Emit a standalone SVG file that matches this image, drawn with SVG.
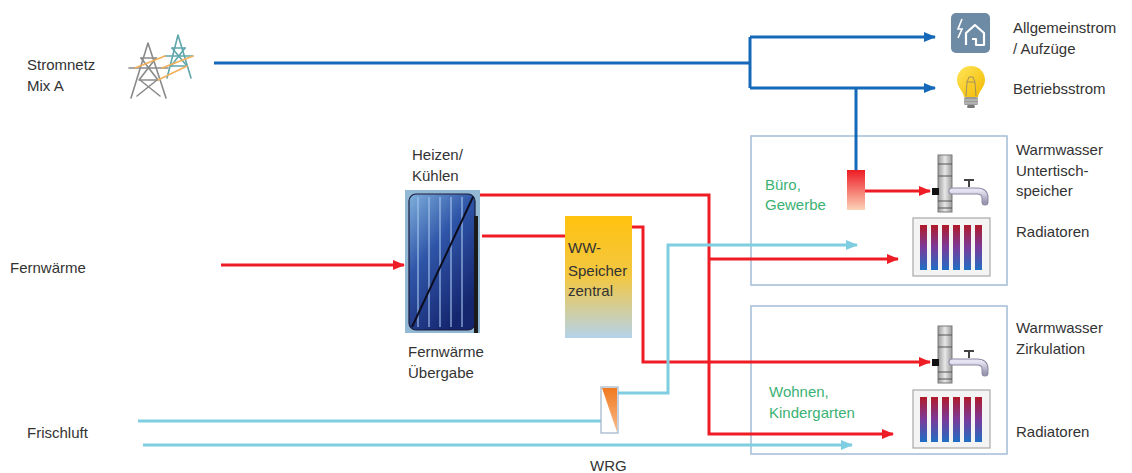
<svg xmlns="http://www.w3.org/2000/svg" width="1132" height="473" viewBox="0 0 1132 473">
  <style>
    .lbl { font-family: "Liberation Sans", Arial, sans-serif; font-size: 15px; fill: #333333; }
    .zone { font-family: "Liberation Sans", Arial, sans-serif; font-size: 15px; fill: #3bb273; }
    .area { fill: none; stroke: #a3bcd6; stroke-width: 1.5; }
    .el { fill: none; stroke: #1668b8; stroke-width: 3; }
    .hot { fill: none; stroke: #ee1c25; stroke-width: 3; }
    .air { fill: none; stroke: #7fcde0; stroke-width: 3; }
    .pyl { fill: none; stroke-width: 1.6; stroke-linecap: round; }
  </style>
  <defs>
    <marker id="ah-el" markerUnits="userSpaceOnUse" markerWidth="12" markerHeight="10" refX="11" refY="5" orient="auto">
      <path d="M0,0 L12,5 L0,10 z" fill="#1668b8"/>
    </marker>
    <marker id="ah-hot" markerUnits="userSpaceOnUse" markerWidth="12" markerHeight="10" refX="11" refY="5" orient="auto">
      <path d="M0,0 L12,5 L0,10 z" fill="#ee1c25"/>
    </marker>
    <marker id="ah-air" markerUnits="userSpaceOnUse" markerWidth="12" markerHeight="10" refX="11" refY="5" orient="auto">
      <path d="M0,0 L12,5 L0,10 z" fill="#7fcde0"/>
    </marker>
    <linearGradient id="g-hx" x1="0" y1="0" x2="0.6" y2="1">
      <stop offset="0" stop-color="#7fb0dc"/>
      <stop offset="0.45" stop-color="#2f55a8"/>
      <stop offset="1" stop-color="#15256e"/>
    </linearGradient>
    <linearGradient id="g-tank" x1="0" y1="0" x2="0" y2="1">
      <stop offset="0" stop-color="#ffc20e"/>
      <stop offset="0.5" stop-color="#f2c744"/>
      <stop offset="1" stop-color="#b5d3ea"/>
    </linearGradient>
    <linearGradient id="g-heater" x1="0" y1="0" x2="0" y2="1">
      <stop offset="0" stop-color="#ee1c25"/>
      <stop offset="1" stop-color="#fbd3b8"/>
    </linearGradient>
    <linearGradient id="g-rad" x1="0" y1="0" x2="0" y2="1">
      <stop offset="0" stop-color="#b01a2a"/>
      <stop offset="0.5" stop-color="#7a3a9a"/>
      <stop offset="1" stop-color="#1f6fc4"/>
    </linearGradient>
    <linearGradient id="g-wrg" x1="0" y1="0" x2="0" y2="1">
      <stop offset="0" stop-color="#f07a20"/>
      <stop offset="1" stop-color="#f9b98a"/>
    </linearGradient>
    <linearGradient id="g-spout" x1="0" y1="0" x2="0" y2="1">
      <stop offset="0" stop-color="#e6e4f2"/>
      <stop offset="1" stop-color="#9a98b0"/>
    </linearGradient>
    <linearGradient id="g-riser" x1="0" y1="0" x2="1" y2="0">
      <stop offset="0" stop-color="#9a9a9a"/>
      <stop offset="0.5" stop-color="#e8e8e8"/>
      <stop offset="1" stop-color="#9a9a9a"/>
    </linearGradient>
    <linearGradient id="g-bulb" x1="0" y1="0" x2="1" y2="1">
      <stop offset="0" stop-color="#ffe65a"/>
      <stop offset="1" stop-color="#f2b800"/>
    </linearGradient>

    <!-- water outlet: riser with tap -->
    <g id="tap">
      <rect x="0" y="0" width="14" height="57" fill="url(#g-riser)" stroke="#7a7a7a" stroke-width="1"/>
      <path d="M0,9 H14 M0,21 H14 M0,46 H14 M0,53 H14" stroke="#555" stroke-width="1"/>
      <path d="M14,36 H39 Q47,36 47,43 V47" fill="none" stroke="#8c8aa3" stroke-width="7" stroke-linecap="round"/>
      <path d="M14,36 H39 Q47,36 47,43 V47" fill="none" stroke="url(#g-spout)" stroke-width="5" stroke-linecap="round"/>
      <path d="M31,32 V25 M26,25 H36" stroke="#444" stroke-width="2"/>
      <rect x="-6" y="33" width="7" height="7" fill="#111"/>
    </g>

    <!-- panel radiator -->
    <g id="rad">
      <rect x="0" y="0" width="77" height="58" fill="#f4f4f4" stroke="#a8a8a8" stroke-width="1.2"/>
      <rect x="7" y="7" width="7" height="45" fill="url(#g-rad)"/>
      <rect x="18" y="7" width="7" height="45" fill="url(#g-rad)"/>
      <rect x="29" y="7" width="7" height="45" fill="url(#g-rad)"/>
      <rect x="40" y="7" width="7" height="45" fill="url(#g-rad)"/>
      <rect x="51" y="7" width="7" height="45" fill="url(#g-rad)"/>
      <rect x="62" y="7" width="7" height="45" fill="url(#g-rad)"/>
    </g>
  </defs>

  <rect width="1132" height="473" fill="#ffffff"/>

  <!-- building zones -->
  <g id="zone-office">
    <rect class="area" x="751" y="136" width="256" height="149"/>
    <text class="zone" x="765" y="190">Büro,</text>
    <text class="zone" x="765" y="210">Gewerbe</text>
  </g>
  <g id="zone-living">
    <rect class="area" x="751" y="306" width="256" height="148"/>
    <text class="zone" x="769" y="397">Wohnen,</text>
    <text class="zone" x="769" y="418">Kindergarten</text>
  </g>

  <!-- connectors -->
  <g id="connectors">
    <path class="el" d="M214,63 H750"/>
    <path class="el" d="M750,37 V88"/>
    <path class="el" d="M750,37 H935" marker-end="url(#ah-el)"/>
    <path class="el" d="M750,88 H935" marker-end="url(#ah-el)"/>
    <path class="el" d="M856,88 V171"/>

    <path class="hot" d="M221,265 H404" marker-end="url(#ah-hot)"/>
    <path class="hot" d="M480,195 H709 V434 H893" marker-end="url(#ah-hot)"/>
    <path class="hot" d="M709,259 H898" marker-end="url(#ah-hot)"/>
    <path class="hot" d="M482,236 H565"/>
    <path class="hot" d="M632,227 H643 V362 H930" marker-end="url(#ah-hot)"/>
    <path class="hot" d="M865,191 H930" marker-end="url(#ah-hot)"/>

    <path class="air" d="M138,421 H601"/>
    <path class="air" d="M618,393 H668 V245 H857" marker-end="url(#ah-air)"/>
    <path class="air" d="M143,445 H852" marker-end="url(#ah-air)"/>
  </g>

  <!-- grid supply -->
  <g id="grid">
    <g class="pyl" stroke="#8a8a8a">
      <path d="M148,43 L131,98 M148,43 L166,98"/>
      <path d="M141,58 H156 M135,68 H162 M140,80 H157"/>
      <path d="M141,58 L158,80 M156,58 L139,80 M140,80 L160,96 M157,80 L137,96"/>
      <path d="M129,68 L135,68 M162,68 L168,68"/>
    </g>
    <g class="pyl" stroke="#5fa7ab">
      <path d="M178,35 L167,78 M178,35 L191,78"/>
      <path d="M172,48 H185 M165,56 H193 M171,66 H187"/>
      <path d="M172,48 L187,66 M185,48 L171,66"/>
    </g>
    <g class="pyl" stroke="#f2b05a" stroke-width="1.2">
      <path d="M135,68 L165,56 M162,68 L193,56 M158,80 L187,66"/>
    </g>
    <text class="lbl" x="27" y="70">Stromnetz</text>
    <text class="lbl" x="27" y="91">Mix A</text>
  </g>

  <g id="district-heat">
    <text class="lbl" x="10" y="273">Fernwärme</text>
  </g>

  <g id="fresh-air">
    <text class="lbl" x="27" y="438">Frischluft</text>
  </g>

  <!-- general power / lifts -->
  <g id="general-power">
    <rect x="951" y="13" width="39" height="40" rx="5" fill="#6e8ba6"/>
    <path d="M962,19 L958,29 L962,29 L958,38" fill="none" stroke="#ffffff" stroke-width="1.6"/>
    <path d="M966,45 V33 L975,25 L984,33 V45 H976 V39 H972" fill="none" stroke="#ffffff" stroke-width="2.2" stroke-linejoin="round"/>
    <text class="lbl" x="1013" y="33">Allgemeinstrom</text>
    <text class="lbl" x="1013" y="54">/ Aufzüge</text>
  </g>

  <!-- operating power -->
  <g id="operating-power">
    <path d="M971,66 C962,66 957,73 957,80 C957,87 963,91 964,97 H978 C979,91 985,87 985,80 C985,73 980,66 971,66 z" fill="url(#g-bulb)"/>
    <path d="M966,96 L967,82 L975,82 L976,96 M967,82 L969,77 H973 L975,82" fill="none" stroke="#9a8a60" stroke-width="0.9"/>
    <rect x="964" y="97" width="14" height="8" rx="1.5" fill="#9a9a9a"/>
    <path d="M964,100 H978 M964,103 H978" stroke="#c8c8c8" stroke-width="1"/>
    <rect x="967" y="105" width="8" height="3" rx="1.5" fill="#777"/>
    <text class="lbl" x="1013" y="94">Betriebsstrom</text>
  </g>

  <!-- district heating substation -->
  <g id="substation">
    <text class="lbl" x="412" y="160">Heizen/</text>
    <text class="lbl" x="412" y="181">Kühlen</text>
    <rect x="405" y="190" width="75" height="143" fill="#93b8d3"/>
    <rect x="409" y="194" width="66" height="136" rx="7" fill="url(#g-hx)" stroke="#1a1a3a" stroke-width="1.2"/>
    <path d="M418,197 V327 M429,197 V327 M440,197 V327 M451,197 V327 M462,197 V327" stroke="#a9c8ef" stroke-width="2" opacity="0.55"/>
    <path d="M412,327 L473,197" stroke="#0d0d20" stroke-width="2"/>
    <rect x="474" y="216" width="4" height="117" fill="#1a1a1a"/>
    <text class="lbl" x="408" y="357">Fernwärme</text>
    <text class="lbl" x="408" y="378">Übergabe</text>
  </g>

  <!-- central hot water storage -->
  <g id="dhw-tank">
    <rect x="565" y="216" width="67" height="122" fill="url(#g-tank)"/>
    <text class="lbl" x="568" y="253">WW-</text>
    <text class="lbl" x="568" y="276">Speicher</text>
    <text class="lbl" x="568" y="296">zentral</text>
  </g>

  <!-- heat recovery -->
  <g id="wrg">
    <rect x="601" y="387" width="17" height="46" fill="#ffffff" stroke="#9fb3c8" stroke-width="1.2"/>
    <path d="M602,388 H617 V432 z" fill="url(#g-wrg)"/>
    <text class="lbl" x="590" y="471">WRG</text>
  </g>

  <!-- under-sink heater -->
  <g id="instant-heater">
    <rect x="847" y="170" width="18" height="40" fill="url(#g-heater)"/>
  </g>

  <g id="outlet-office">
    <use href="#tap" x="938" y="155"/>
    <text class="lbl" x="1016" y="155">Warmwasser</text>
    <text class="lbl" x="1016" y="176">Untertisch-</text>
    <text class="lbl" x="1016" y="196">speicher</text>
  </g>
  <g id="radiator-office">
    <use href="#rad" x="913" y="218"/>
    <text class="lbl" x="1016" y="237">Radiatoren</text>
  </g>

  <g id="outlet-living">
    <use href="#tap" x="938" y="326"/>
    <text class="lbl" x="1016" y="333">Warmwasser</text>
    <text class="lbl" x="1016" y="354">Zirkulation</text>
  </g>
  <g id="radiator-living">
    <use href="#rad" x="913" y="390"/>
    <text class="lbl" x="1016" y="437">Radiatoren</text>
  </g>
</svg>
